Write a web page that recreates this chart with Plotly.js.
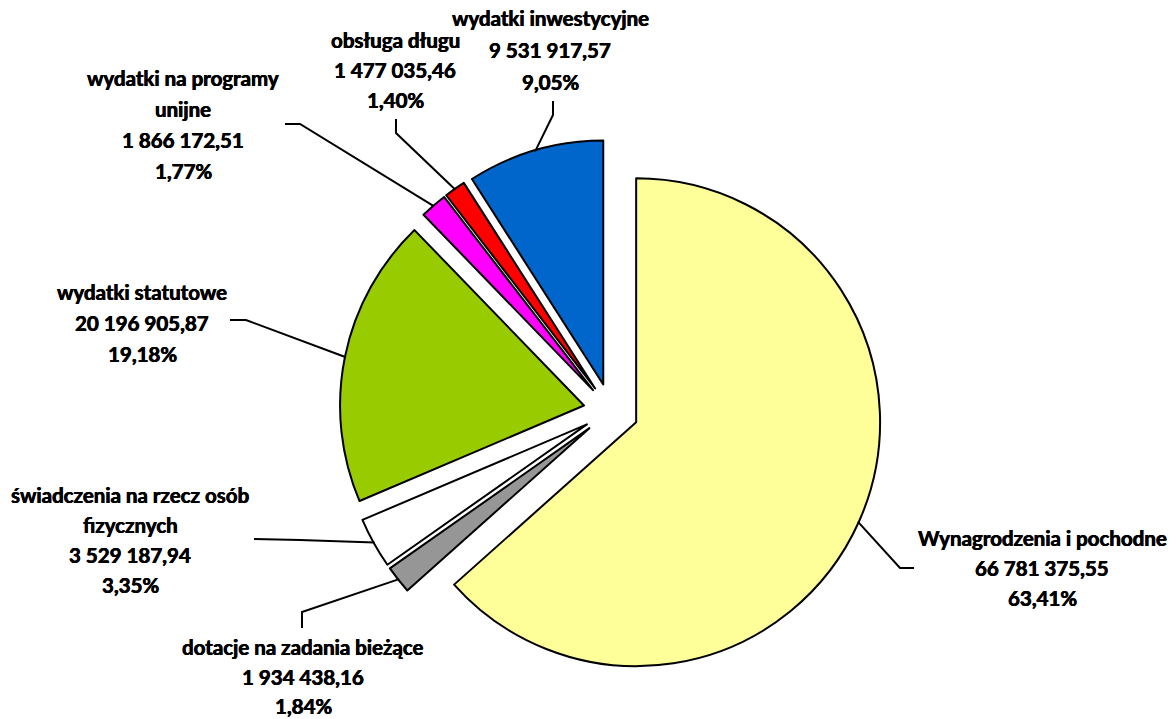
<!DOCTYPE html>
<html><head><meta charset="utf-8">
<script src="https://cdn.plot.ly/plotly-3.0.1.min.js"></script>
<style>html,body{margin:0;padding:0;background:#fff}#chart{width:1172px;height:719px}</style>
</head><body><div id="chart"></div>
<script>
// ---- data ----
const categories = ["Wynagrodzenia i pochodne", "dotacje na zadania bieżące", "świadczenia na rzecz osób fizycznych", "wydatki statutowe", "wydatki na programy unijne", "obsługa długu", "wydatki inwestycyjne"];
const amounts = [66781375.55, 1934438.16, 3529187.94, 20196905.87, 1866172.51, 1477035.46, 9531917.57];
const amountLabels = ["66 781 375,55", "1 934 438,16", "3 529 187,94", "20 196 905,87", "1 866 172,51", "1 477 035,46", "9 531 917,57"];
const percentLabels = ["63,41%", "1,84%", "3,35%", "19,18%", "1,77%", "1,40%", "9,05%"];
const nameLines = [["Wynagrodzenia i pochodne"], ["dotacje na zadania bieżące"], ["świadczenia na rzecz osób", "fizycznych"], ["wydatki statutowe"], ["wydatki na programy", "unijne"], ["obsługa długu"], ["wydatki inwestycyjne"]];

// ---- styles / layout ----
const colors = ["#FFFF99", "#969696", "#FFFFFF", "#99CC00", "#FF00FF", "#FF0000", "#0066CC"];
const W = 1172, H = 719;
const PIE = {cx: 611, cy: 411, box: 543, pull: 0.113};
const labelPos = [
  {x: 1042, y: 538, dy: 30},
  {x: 303, y: 647, dy: 29.5},
  {x: 130, y: 495, dy: 30},
  {x: 142, y: 292, dy: 31},
  {x: 183, y: 78, dy: 31},
  {x: 395, y: 40, dy: 30},
  {x: 550, y: 18, dy: 32}
];
const leaderPts = [
  [[914, 568], [900, 568]],
  [[302, 628], [302, 612]],
  [[254, 539], [300, 540]],
  [[230, 320], [246, 320]],
  [[285, 124], [300, 124]],
  [[396, 119], [396, 133]],
  [[553, 101], [553, 115]]
];

const px = x => x / W, py = y => 1 - y / H;
const r = PIE.box / (2 * (1 + PIE.pull));
const total = amounts.reduce((a, b) => a + b, 0);

const annotations = [];
const shapes = [];
let cum = 0;
amounts.forEach((v, i) => {
  const mid = (cum + v / 2) / total * 2 * Math.PI;
  cum += v;
  const d = r * (1 + PIE.pull) - 1;
  const sx = PIE.cx + d * Math.sin(mid), sy = PIE.cy - d * Math.cos(mid);
  const pts = leaderPts[i].concat([[sx, sy]]);
  const path = pts.map((p, k) => (k ? 'L' : 'M') + px(p[0]).toFixed(5) + ',' + py(p[1]).toFixed(5)).join(' ');
  shapes.push({type: 'path', xref: 'paper', yref: 'paper', path: path, line: {color: '#000', width: 2}});
  const lines = nameLines[i].concat([amountLabels[i], percentLabels[i]]);
  lines.forEach((t, k) => {
    annotations.push({
      xref: 'paper', yref: 'paper', x: px(labelPos[i].x), y: py(labelPos[i].y + k * labelPos[i].dy),
      xanchor: 'center', yanchor: 'middle', showarrow: false,
      text: '<b>' + t + '</b>',
      font: {family: 'Lato, "Open Sans", sans-serif', size: 20.5, color: '#000', shadow: '0.35px 0 0 #000, -0.35px 0 0 #000'}
    });
  });
});

const trace = {
  type: 'pie',
  labels: categories,
  values: amounts,
  sort: false,
  direction: 'clockwise',
  rotation: 0,
  pull: amounts.map(() => PIE.pull),
  marker: {colors: colors, line: {color: '#000', width: 2}},
  textinfo: 'none',
  hoverinfo: 'none',
  domain: {
    x: [px(PIE.cx - PIE.box / 2), px(PIE.cx + PIE.box / 2)],
    y: [py(PIE.cy + PIE.box / 2), py(PIE.cy - PIE.box / 2)]
  }
};

Plotly.newPlot('chart', [trace], {
  width: W, height: H,
  margin: {l: 0, r: 0, t: 0, b: 0},
  showlegend: false,
  paper_bgcolor: '#fff',
  annotations: annotations,
  shapes: shapes
}, {staticPlot: true});
</script></body></html>
